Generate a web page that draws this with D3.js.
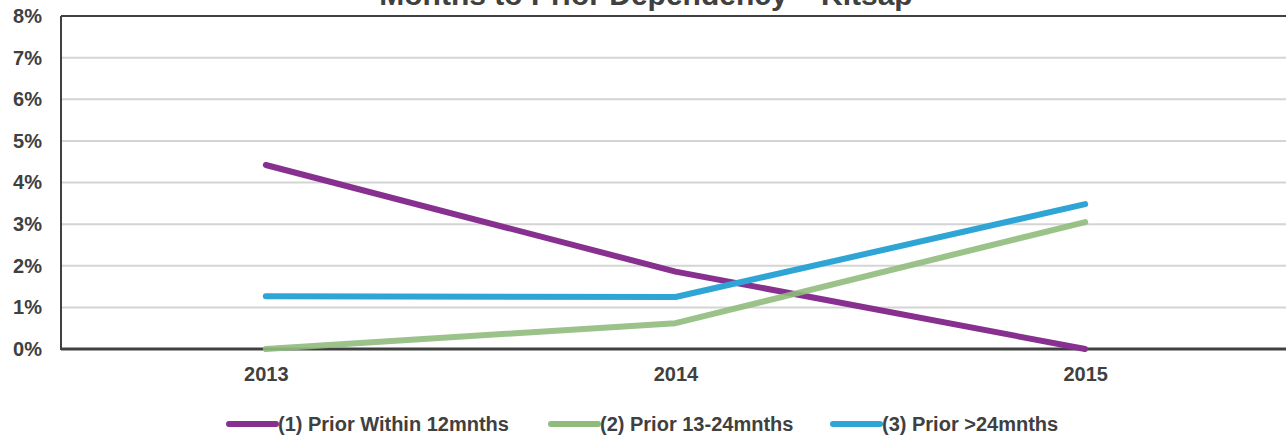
<!DOCTYPE html>
<html>
<head>
<meta charset="utf-8">
<script src="https://cdn.jsdelivr.net/npm/d3@7"></script>
<style>
  html, body { margin: 0; padding: 0; background: #fff; }
  svg { display: block; }
  text { font-family: "Liberation Sans", Arial, sans-serif; }
</style>
</head>
<body>
<svg id="chart" width="1286" height="435"></svg>
<script>
// Share of cases returning to dependency, by months since prior episode
const years = ["2013", "2014", "2015"];
const within12 = [4.42, 1.86, 0.0];
const months13to24 = [0.0, 0.62, 3.05];
const over24 = [1.27, 1.25, 3.48];
const yTicks = [0, 1, 2, 3, 4, 5, 6, 7, 8];
const seriesNames = ["(1) Prior Within 12mnths", "(2) Prior 13-24mnths", "(3) Prior >24mnths"];
const seriesColors = ["#87308f", "#8fbb7c", "#2fa5d6"];
const titleText = "Months to Prior Dependency \u2013 Kitsap";

const series = [
  { name: seriesNames[0], values: within12, color: seriesColors[0], opacity: 1 },
  { name: seriesNames[1], values: months13to24, color: seriesColors[1], opacity: 0.9 },
  { name: seriesNames[2], values: over24, color: seriesColors[2], opacity: 1 }
];

const svg = d3.select("#chart");
const plot = { left: 61, right: 1290, top: 16, bottom: 349 };

const x = d3.scalePoint().domain(years).range([plot.left, plot.right]).padding(0.5);
const y = d3.scaleLinear().domain([0, 8]).range([plot.bottom, plot.top]);

// Title (sits partly above the visible area)
svg.append("text")
  .attr("x", 646).attr("y", 5)
  .attr("text-anchor", "middle")
  .attr("font-size", 30).attr("font-weight", "bold")
  .attr("fill", "#404040")
  .text(titleText);

// Horizontal gridlines
svg.append("g")
  .selectAll("line")
  .data(yTicks.filter(d => d > 0 && d < 8))
  .join("line")
  .attr("x1", plot.left).attr("x2", plot.right)
  .attr("y1", d => y(d)).attr("y2", d => y(d))
  .attr("stroke", "#d4d4d4").attr("stroke-width", 2);

// Y axis labels
const yAxis = d3.axisLeft(y).tickValues(yTicks).tickSize(0).tickPadding(19)
  .tickFormat(d => d + "%");
const gy = svg.append("g").attr("transform", `translate(${plot.left},0)`).call(yAxis);
gy.select(".domain").remove();
gy.selectAll("text")
  .attr("font-size", 20).attr("font-weight", "bold")
  .attr("fill", "#404040")
  .attr("font-family", "'Liberation Sans', Arial, sans-serif");

// X axis labels
const xAxis = d3.axisBottom(x).tickSize(0).tickPadding(18);
const gx = svg.append("g").attr("transform", `translate(0,${plot.bottom})`).call(xAxis);
gx.select(".domain").remove();
gx.selectAll("text")
  .attr("font-size", 20).attr("font-weight", "bold")
  .attr("fill", "#404040")
  .attr("font-family", "'Liberation Sans', Arial, sans-serif");

// Frame: left, top and bottom borders
const frame = svg.append("g").attr("stroke", "#404040").attr("stroke-width", 2).attr("fill", "none");
frame.append("line").attr("x1", plot.left).attr("x2", plot.left).attr("y1", plot.top).attr("y2", plot.bottom + 1);
frame.append("line").attr("x1", plot.left).attr("x2", plot.right).attr("y1", plot.top).attr("y2", plot.top);
frame.append("line").attr("x1", plot.left).attr("x2", plot.right).attr("y1", plot.bottom).attr("y2", plot.bottom).attr("stroke-width", 3);

// Series lines
const line = d3.line().x((d, i) => x(years[i])).y(d => y(d));
svg.append("g")
  .selectAll("path")
  .data(series)
  .join("path")
  .attr("d", d => line(d.values))
  .attr("fill", "none")
  .attr("stroke", d => d.color)
  .attr("stroke-opacity", d => d.opacity)
  .attr("stroke-width", 6)
  .attr("stroke-linecap", "round")
  .attr("stroke-linejoin", "round");

// Legend
const legendX = [226, 548, 830];
const legend = svg.append("g")
  .selectAll("g")
  .data(series)
  .join("g")
  .attr("transform", (d, i) => `translate(${legendX[i]},424)`);
legend.append("line")
  .attr("x1", 3).attr("x2", 50).attr("y1", 0).attr("y2", 0)
  .attr("stroke", d => d.color).attr("stroke-width", 6).attr("stroke-linecap", "round");
legend.append("text")
  .attr("x", 52).attr("y", 7)
  .attr("font-size", 20).attr("font-weight", "bold")
  .attr("fill", "#404040")
  .attr("font-family", "'Liberation Sans Narrow', 'Arial Narrow', 'Liberation Sans', sans-serif")
  .text(d => d.name);
</script>
</body>
</html>
